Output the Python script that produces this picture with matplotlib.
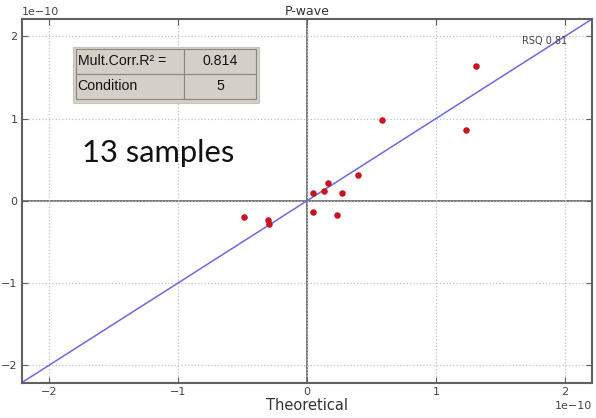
import numpy as np
import matplotlib.pyplot as plt
from matplotlib.patches import Rectangle

# P-wave theoretical vs observed (units of 1e-10)
theoretical = [1.31, 0.58, 1.23, 0.40, 0.16, 0.13, 0.05, 0.27, 0.05, 0.23, -0.49, -0.30, -0.29]
observed = [1.64, 0.98, 0.86, 0.32, 0.22, 0.12, 0.10, 0.10, -0.14, -0.17, -0.20, -0.23, -0.28]
scale = 1e-10
lim = 2.21
ticks = [-2, -1, 0, 1, 2]
rsq_fit = 0.81
table_rows = [["Mult.Corr.R² =", "0.814"], ["Condition", "5"]]
n_samples = 13

fig = plt.figure(figsize=(5.96, 4.18), dpi=100)
ax = fig.add_axes([0.0364, 0.0845, 0.957, 0.870])

x = np.array(theoretical) * scale
y = np.array(observed) * scale

ax.set_xlim(-lim * scale, lim * scale)
ax.set_ylim(-lim * scale, lim * scale)
ax.set_xticks(np.array(ticks) * scale)
ax.set_yticks(np.array(ticks) * scale)

ax.grid(True, color='#c0c0c0', linestyle=':', linewidth=0.9)
ax.axhline(0, color='#707070', lw=1.3, zorder=1)
ax.axvline(0, color='#707070', lw=1.3, zorder=1)

# 1:1 line
ax.plot([-lim * scale, lim * scale], [-lim * scale, lim * scale], color='#6a6ae0', lw=1.1, zorder=2)
ax.scatter(x, y, s=22, color='#c8141e', zorder=3, linewidths=0)

for s in ax.spines.values():
    s.set_color('#606060')
    s.set_linewidth(1.5)
ax.tick_params(direction='in', length=4, color='#606060', labelsize=8, labelcolor='#444444',
               top=True, right=True, pad=3)
ax.xaxis.get_offset_text().set_fontsize(8)
ax.xaxis.get_offset_text().set_color('#444444')
ax.yaxis.get_offset_text().set_fontsize(8)
ax.yaxis.get_offset_text().set_color('#444444')

ax.set_title("P-wave", fontsize=9, color='#333333', pad=3)
ax.set_xlabel("Theoretical", fontsize=10.5, color='#333333', labelpad=1)

ax.text(0.957, 0.94, f"RSQ {rsq_fit:.2f}", transform=ax.transAxes, fontsize=7,
        color='#444444', ha='right', va='center')

ax.text(0.105, 0.608, f"{n_samples} samples", transform=ax.transAxes, fontsize=22.2,
        family='Lato', color='#111111', ha='left', va='baseline')

# stats box
ax.add_patch(Rectangle((0.09, 0.769), 0.326, 0.154, transform=ax.transAxes,
                       facecolor='#d4d0c8', edgecolor='#c8c4bc', lw=0.8, zorder=4))
tbl = ax.table(cellText=table_rows, cellLoc='left', colWidths=[0.6, 0.4],
               bbox=[0.095, 0.78, 0.316, 0.138], zorder=5)
tbl.auto_set_font_size(False)
for (r, c), cell in tbl.get_celld().items():
    cell.set_facecolor('#d4d0c8')
    cell.set_edgecolor('#8a8780')
    cell.set_linewidth(0.8)
    cell.get_text().set_fontsize(10.2)
    cell.get_text().set_family('Liberation Sans')
    cell.get_text().set_color('#111111')
    if c == 1:
        cell.get_text().set_horizontalalignment('center')
    cell.PAD = 0.015

fig.savefig("out.png", dpi=100)
